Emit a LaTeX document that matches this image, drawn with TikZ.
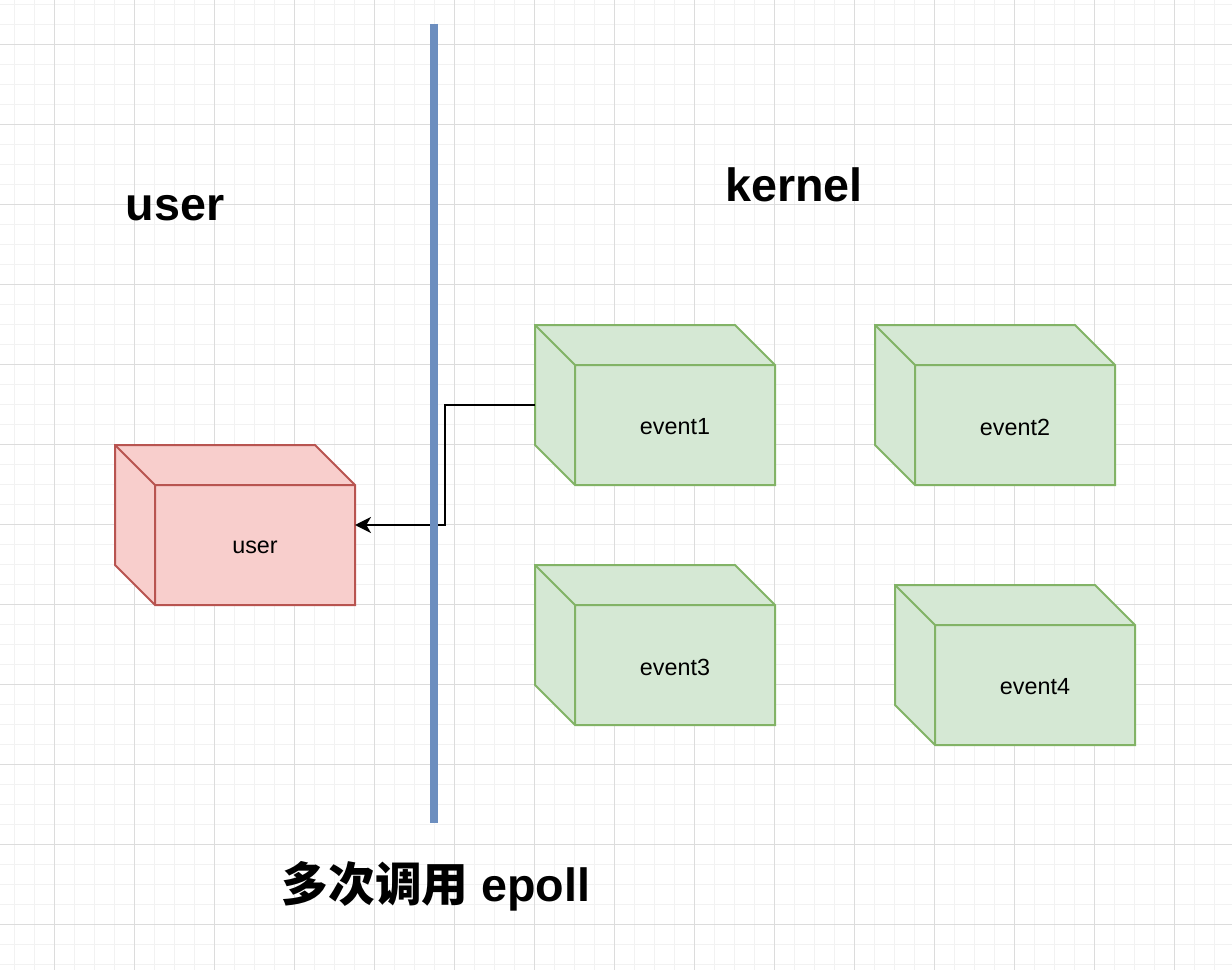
\documentclass[tikz,border=0pt]{standalone}
\usepackage{fontspec}
\setmainfont{Liberation Sans}
\newfontfamily\cjk{Noto Sans CJK SC}
\usetikzlibrary{calc,arrows.meta,backgrounds}
\definecolor{pinkfill}{HTML}{F8CECC}
\definecolor{pinkline}{HTML}{B85450}
\definecolor{greenfill}{HTML}{D5E8D4}
\definecolor{greenline}{HTML}{82B366}
\definecolor{bluesep}{HTML}{6C8EBF}
\definecolor{gridminor}{HTML}{F2F2F2}
\definecolor{gridmajor}{HTML}{DCDCDC}
\newcommand\drawcube[3]{%
  \path[fill=#2,draw=#3,line width=1.5pt,line join=miter]
    (#1.north west) -- ($(#1.north east)+(-40,0)$) -- ($(#1.north east)+(0,40)$)
    -- (#1.south east) -- ($(#1.south west)+(40,0)$) -- ($(#1.south west)+(0,-40)$) -- cycle;
  \draw[draw=#3,line width=1.5pt]
    (#1.north west) -- ($(#1.north west)+(40,40)$) -- ($(#1.north east)+(0,40)$)
    ($(#1.north west)+(40,40)$) -- ($(#1.south west)+(40,0)$);
}
\tikzset{
  cube/.style={minimum width=180pt,minimum height=120pt,inner sep=0pt,outer sep=0pt},
  cubetext/.style={xshift=15pt,yshift=-16.5pt,font=\fontsize{17.5}{21}\selectfont,inner sep=0pt},
  title/.style={font=\fontsize{35}{42}\selectfont\bfseries,inner sep=0pt},
  conn/.style={draw=black,line width=1.5pt,-{Stealth[length=12pt,width=12pt,inset=3.5pt]}},
  sep/.style={draw=bluesep,line width=6pt}
}
\begin{document}
\begin{tikzpicture}[x=0.75pt,y=-0.75pt]
\useasboundingbox (0,0) rectangle (1232,970);
% nodes
\node[cube,label={[cubetext]center:user}] (u) at (235,525) {};
\node[cube,label={[cubetext]center:event1}] (e1) at (655,405) {};
\node[cube,label={[cubetext]center:event2}] (e2) at (995,405) {};
\node[cube,label={[cubetext]center:event3}] (e3) at (655,645) {};
\node[cube,label={[cubetext]center:event4}] (e4) at (1015,665) {};
\node[title] (tuser) at (175,208) {user};
\node[title] (tkernel) at (794,185) {kernel};
\node[title] (tbottom) at (436,886) {{\cjk\bfseries 多次调用} epoll};
% connector
\draw[conn] (e1.west) -- ++(-90,0) |- (u.east);
% separator
\coordinate (septop) at (434,24);
\coordinate (sepbot) at (434,823);
\draw[sep] (septop) -- (sepbot);
\begin{pgfonlayer}{background}
  \fill[white] (0,0) rectangle (1232,970);
  \foreach \x in {14.5,34.5,...,1232} \draw[gridminor,line width=1.2pt] (\x,0) -- (\x,970);
  \foreach \y in {4.5,24.5,...,970} \draw[gridminor,line width=1.2pt] (0,\y) -- (1232,\y);
  \foreach \x in {54.5,134.5,...,1232} \draw[gridmajor,line width=0.8pt] (\x,0) -- (\x,970);
  \foreach \y in {44.5,124.5,...,970} \draw[gridmajor,line width=0.8pt] (0,\y) -- (1232,\y);
  \drawcube{u}{pinkfill}{pinkline}
  \drawcube{e1}{greenfill}{greenline}
  \drawcube{e2}{greenfill}{greenline}
  \drawcube{e3}{greenfill}{greenline}
  \drawcube{e4}{greenfill}{greenline}
\end{pgfonlayer}
\end{tikzpicture}
\end{document}
